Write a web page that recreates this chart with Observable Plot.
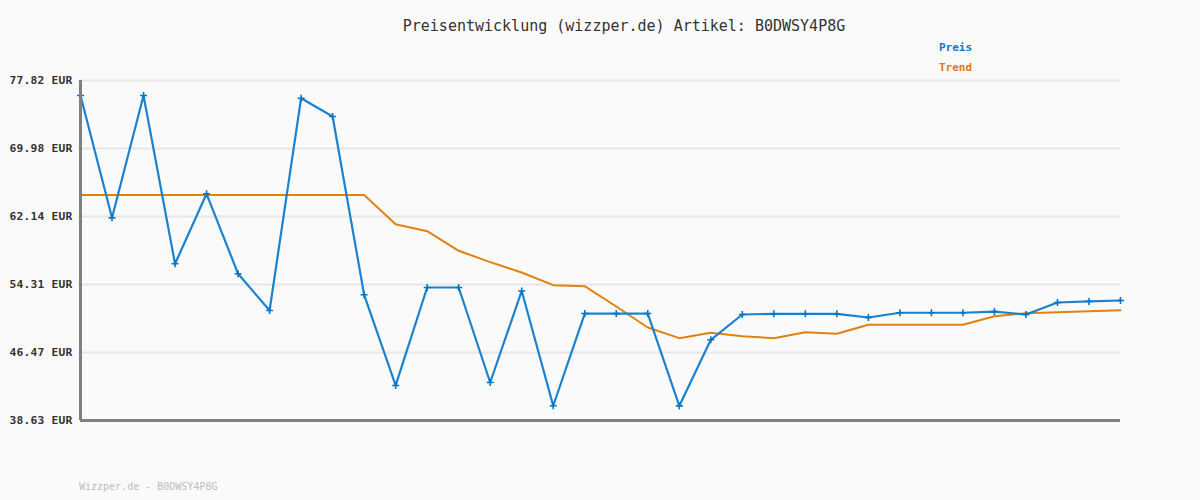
<!DOCTYPE html>
<html>
<head>
<meta charset="utf-8">
<script src="https://cdn.jsdelivr.net/npm/d3@7"></script>
<script src="https://cdn.jsdelivr.net/npm/@observablehq/plot@0.6"></script>
<style>
  html, body { margin: 0; padding: 0; background: #fafafa; }
  #wrap { position: relative; width: 1200px; height: 500px; background: #fafafa; overflow: hidden; }
  #wrap svg { position: absolute; left: 0; top: 0; }
  .txt { position: absolute; white-space: pre; font-family: "DejaVu Sans Mono", monospace; }
  #title { left: 0; width: 1248px; text-align: center; top: 19px; font-size: 15px; line-height: 15px; color: #333; }
  #leg1 { left: 939px; top: 42px; font-size: 11px; line-height: 11px; font-weight: bold; color: #0a78c8; }
  #leg2 { left: 939px; top: 62px; font-size: 11px; line-height: 11px; font-weight: bold; color: #dc7a06; }
  #cap { left: 79px; top: 482px; font-size: 10px; line-height: 10px; color: #bdbdbd; }
</style>
</head>
<body>
<div id="wrap">
  <div class="txt" id="title">Preisentwicklung (wizzper.de) Artikel: B0DWSY4P8G</div>
  <div class="txt" id="leg1">Preis</div>
  <div class="txt" id="leg2">Trend</div>
  <div class="txt" id="cap">Wizzper.de - B0DWSY4P8G</div>
</div>
<script>
// Data
const seriesNames = ["Preis", "Trend"];
const yTicks = [38.63, 46.47, 54.31, 62.14, 69.98, 77.82];
const price = [76.09, 61.99, 76.09, 56.69, 64.76, 55.54, 51.31, 75.78, 73.67, 53.12,
               42.67, 53.96, 53.96, 43.01, 53.56, 40.33, 50.96, 50.96, 50.96, 40.31,
               47.93, 50.85, 50.93, 50.93, 50.93, 50.50, 51.05, 51.05, 51.05, 51.19,
               50.85, 52.23, 52.35, 52.46];
const trend = [64.62, 64.62, 64.62, 64.62, 64.62, 64.62, 64.62, 64.62, 64.62, 64.62,
               61.26, 60.45, 58.19, 56.88, 55.69, 54.23, 54.11, 51.77, 49.35, 48.12,
               48.74, 48.35, 48.12, 48.81, 48.62, 49.66, 49.66, 49.66, 49.66, 50.65,
               51.00, 51.12, 51.23, 51.35];

const priceData = price.map((v, i) => ({i, v}));
const trendData = trend.map((v, i) => ({i, v}));

const chart = Plot.plot({
  width: 1200,
  height: 500,
  marginLeft: 80,
  marginRight: 80,
  marginTop: 80,
  marginBottom: 80,
  style: {background: "transparent", fontFamily: "DejaVu Sans Mono, monospace", fontSize: "11.3px", fontWeight: "bold", color: "#333", letterSpacing: "0.2px"},
  x: {domain: [0, price.length - 1], axis: null},
  y: {domain: [yTicks[0], yTicks[yTicks.length - 1]], axis: null},
  marks: [
    Plot.ruleY(yTicks.slice(1), {stroke: "#e6e6e6", strokeWidth: 2}),
    Plot.axisY(yTicks, {tickSize: 0, tickPadding: 8, label: null, tickFormat: d => d.toFixed(2) + " EUR", fill: "#333"}),
    Plot.line(trendData, {x: "i", y: "v", stroke: "#e0820f", strokeWidth: 2}),
    Plot.line(priceData, {x: "i", y: "v", stroke: "#1a82cf", strokeWidth: 2.2}),
    Plot.dot(priceData, {x: "i", y: "v", symbol: "plus", r: 2.4, fill: "#0a74c4", stroke: "#0a74c4", strokeWidth: 1.6}),
    Plot.ruleX([0], {stroke: "#808080", strokeWidth: 3}),
    Plot.ruleY([yTicks[0]], {stroke: "#808080", strokeWidth: 3})
  ]
});
document.getElementById("wrap").prepend(chart);
</script>
</body>
</html>
